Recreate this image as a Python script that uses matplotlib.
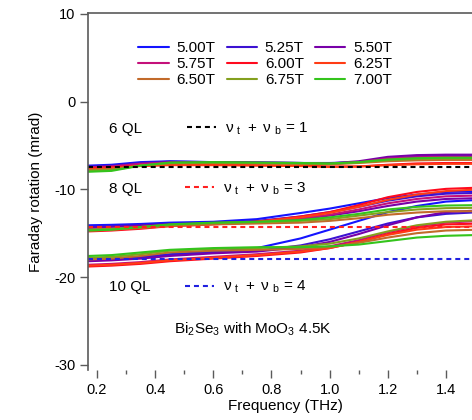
import matplotlib
matplotlib.use('Agg')
import matplotlib.pyplot as plt
from matplotlib.legend import Legend
import numpy as np

plt.rcParams['font.family'] = ['Liberation Sans', 'DejaVu Sans']
plt.rcParams['mathtext.fontset'] = 'custom'
plt.rcParams['mathtext.rm'] = 'Liberation Sans'
plt.rcParams['mathtext.it'] = 'Liberation Sans'
plt.rcParams['axes.unicode_minus'] = False

freq = [0.17, 0.25, 0.35, 0.45, 0.6, 0.75, 0.9, 1.0, 1.1, 1.2, 1.3, 1.4, 1.52]

fields = ['5.00T', '5.25T', '5.50T', '5.75T', '6.00T', '6.25T', '6.50T', '6.75T', '7.00T']
colors = ['#1414ff', '#3c12d2', '#7800a8', '#c4107a', '#ff0a1e', '#ff3c14', '#c26a2a', '#84a01e', '#34c41c']

# 6 QL
ql6 = [
    [-7.3, -7.2, -6.9, -6.8, -6.9, -6.95, -7.0, -7.0, -6.9, -6.5, -6.3, -6.2, -6.2],
    [-7.4, -7.3, -7.0, -6.85, -6.9, -6.95, -7.0, -7.05, -6.9, -6.5, -6.3, -6.25, -6.25],
    [-7.5, -7.4, -7.1, -6.9, -6.9, -6.95, -7.0, -7.05, -6.8, -6.3, -6.1, -6.05, -6.05],
    [-7.5, -7.4, -7.1, -6.95, -7.0, -7.0, -7.05, -7.1, -6.9, -6.5, -6.35, -6.3, -6.3],
    [-7.6, -7.5, -7.3, -7.2, -7.2, -7.25, -7.3, -7.4, -7.4, -7.2, -7.05, -7.0, -7.0],
    [-7.7, -7.6, -7.35, -7.25, -7.25, -7.3, -7.35, -7.45, -7.4, -7.25, -7.15, -7.1, -7.1],
    [-7.8, -7.7, -7.3, -7.05, -7.0, -7.05, -7.1, -7.15, -7.0, -6.8, -6.7, -6.65, -6.65],
    [-7.9, -7.8, -7.3, -7.0, -6.95, -7.0, -7.05, -7.1, -6.95, -6.7, -6.55, -6.5, -6.5],
    [-8.0, -7.9, -7.3, -6.95, -6.9, -6.95, -7.0, -7.05, -6.9, -6.6, -6.45, -6.4, -6.4],
]

# 8 QL
ql8 = [
    [-14.1, -14.05, -13.95, -13.8, -13.7, -13.4, -12.7, -12.2, -11.6, -11.0, -10.6, -10.3, -10.2],
    [-14.3, -14.2, -14.1, -13.95, -13.8, -13.6, -13.1, -12.6, -12.0, -11.3, -10.8, -10.5, -10.4],
    [-14.4, -14.3, -14.15, -14.0, -13.85, -13.7, -13.4, -13.0, -12.5, -11.9, -11.4, -11.1, -11.0],
    [-14.6, -14.5, -14.3, -14.1, -13.9, -13.7, -13.3, -12.9, -12.3, -11.6, -11.1, -10.8, -10.7],
    [-14.8, -14.7, -14.5, -14.2, -14.0, -13.7, -13.1, -12.6, -11.8, -10.9, -10.3, -9.95, -9.8],
    [-14.7, -14.6, -14.4, -14.1, -13.9, -13.7, -13.2, -12.7, -12.0, -11.2, -10.6, -10.2, -10.0],
    [-14.7, -14.6, -14.4, -14.2, -14.0, -13.9, -13.8, -13.6, -13.3, -12.9, -12.65, -12.5, -12.5],
    [-14.6, -14.5, -14.3, -14.05, -13.85, -13.75, -13.6, -13.4, -13.0, -12.6, -12.3, -12.15, -12.1],
    [-14.7, -14.6, -14.3, -14.0, -13.8, -13.7, -13.5, -13.2, -12.8, -12.3, -12.0, -11.85, -11.8],
]

# 10 QL
ql10 = [
    [-18.0, -17.9, -17.7, -17.4, -17.1, -16.7, -15.6, -14.6, -13.6, -12.6, -11.9, -11.4, -11.2],
    [-18.1, -18.0, -17.8, -17.5, -17.2, -17.0, -16.4, -15.7, -14.8, -13.9, -13.2, -12.8, -12.6],
    [-18.2, -18.1, -17.9, -17.6, -17.3, -17.1, -16.6, -16.0, -15.1, -14.1, -13.2, -12.6, -12.4],
    [-18.6, -18.5, -18.3, -18.0, -17.7, -17.4, -17.0, -16.5, -15.8, -14.9, -14.2, -13.8, -13.6],
    [-18.8, -18.7, -18.5, -18.2, -17.9, -17.6, -17.2, -16.7, -16.0, -15.1, -14.4, -14.0, -13.9],
    [-18.7, -18.6, -18.4, -18.1, -17.8, -17.5, -17.1, -16.7, -16.0, -15.2, -14.6, -14.3, -14.2],
    [-18.0, -17.9, -17.6, -17.2, -17.0, -16.9, -16.8, -16.6, -16.1, -15.5, -15.0, -14.7, -14.6],
    [-17.8, -17.7, -17.4, -17.0, -16.8, -16.7, -16.5, -16.2, -15.6, -14.8, -14.1, -13.7, -13.5],
    [-17.6, -17.5, -17.2, -16.9, -16.7, -16.6, -16.6, -16.5, -16.3, -15.9, -15.5, -15.3, -15.2],
]

# quantized levels
levels = [-7.4, -14.35, -18.0]
level_colors = ['black', '#ff2020', '#2020e0']
level_labels = [r'$\nu\ _{\rm t}\ +\ \nu\ _{\rm b}$ = 1',
                r'$\nu\ _{\rm t}\ +\ \nu\ _{\rm b}$ = 3',
                r'$\nu\ _{\rm t}\ +\ \nu\ _{\rm b}$ = 4']

fig = plt.figure(figsize=(4.72, 4.2), dpi=100)
ax = fig.add_axes([88 / 472, 50 / 420, 394 / 472, 357 / 420])

handles = []
for i in range(len(fields)):
    for grp in (ql6, ql8, ql10):
        h, = ax.plot(freq, grp[i], color=colors[i], lw=1.5, solid_capstyle='round')
    handles.append(h)

lev_handles = []
for lv, lc in zip(levels, level_colors):
    lh = ax.axhline(lv, color=lc, lw=1.5, ls=(0, (2.4, 1.9)))
    lev_handles.append(lh)

ax.set_xlim(0.169, 1.524)
ax.set_ylim(-30.6, 10.1)
ax.set_yticks([10, 0, -10, -20, -30])
ax.set_xticks([0.2, 0.4, 0.6, 0.8, 1.0, 1.2, 1.4])
ax.set_xticks(np.arange(0.3, 1.5, 0.2), minor=True)
ax.set_xticklabels(['0.2', '0.4', '0.6', '0.8', '1.0', '1.2', '1.4'])

ax.spines['right'].set_visible(False)
ax.spines['bottom'].set_visible(False)
for s in ('left', 'top'):
    ax.spines[s].set_color('#5a5a5a')
    ax.spines[s].set_linewidth(1.2)
ax.tick_params(axis='both', which='major', direction='out', length=6, width=1.0,
               color='#5a5a5a', labelsize=10.5, pad=3)
ax.tick_params(axis='x', which='minor', direction='out', length=3, width=1.0, color='#5a5a5a')
ax.tick_params(top=False)

ax.set_xlabel('Frequency (THz)', fontsize=11, labelpad=2)
ax.set_ylabel('Faraday rotation (mrad)', fontsize=11, labelpad=8)

# legend of fields, filled row-wise
order = [0, 3, 6, 1, 4, 7, 2, 5, 8]
leg = Legend(ax, [handles[k] for k in order], [fields[k] for k in order], ncol=3,
             loc='upper left', bbox_to_anchor=(0.128, 0.921), frameon=False,
             fontsize=11, handlelength=2.0, handletextpad=0.5, columnspacing=0.72,
             labelspacing=0.12, borderpad=0, borderaxespad=0)
ax.add_artist(leg)

key_pos = [(0.25, 0.675), (0.245, 0.507), (0.245, 0.232)]
for lh, lab, pos in zip(lev_handles, level_labels, key_pos):
    kl = Legend(ax, [lh], [lab], loc='center left', bbox_to_anchor=pos, frameon=False,
                fontsize=11, handlelength=1.9, handletextpad=0.6,
                borderpad=0, borderaxespad=0)
    ax.add_artist(kl)

ax.text(0.24, -3.1, '6 QL', fontsize=11, va='center')
ax.text(0.24, -10.0, '8 QL', fontsize=11, va='center')
ax.text(0.24, -21.1, '10 QL', fontsize=11, va='center')
ax.text(0.465, -26.0, r'Bi$_2$Se$_3$ with MoO$_3$ 4.5K', fontsize=11, va='center')

fig.savefig('out.png', dpi=100)
plt.close(fig)
